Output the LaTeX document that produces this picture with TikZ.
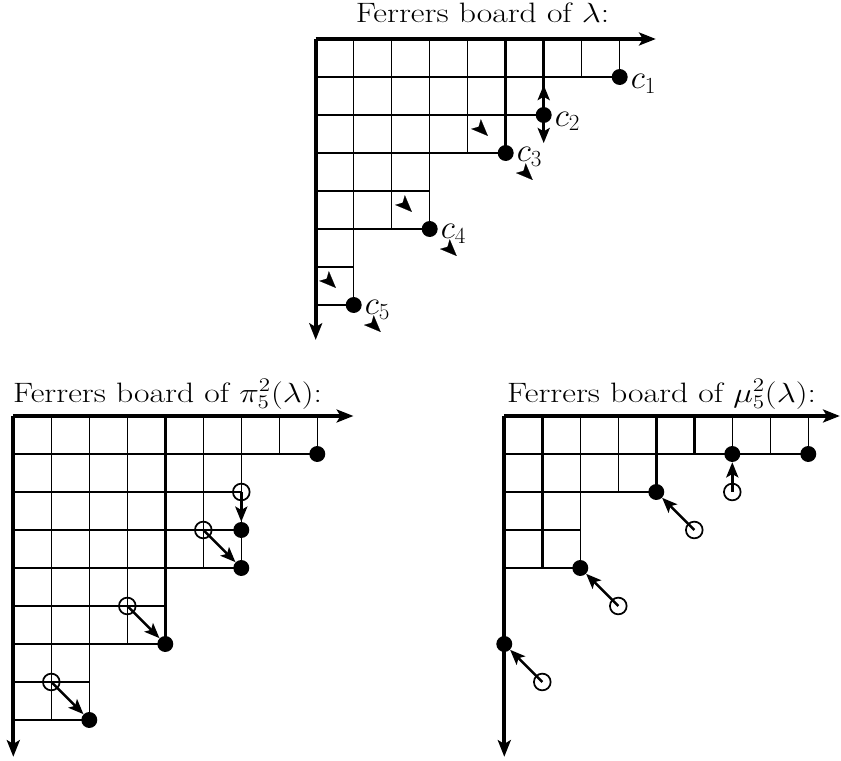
\documentclass[tikz,border=0pt]{standalone}
\usepackage{graphicx}
\usetikzlibrary{arrows.meta}
\begin{document}
\begin{tikzpicture}[
  thinl/.style={line width=0.95pt},
  thickl/.style={line width=2.2pt},
  axis/.style={line width=2.9pt, -{Stealth[length=0.44cm,width=0.34cm,inset=0.1cm]}},
  mv/.style={line width=1.9pt, -{Stealth[length=0.4cm,width=0.32cm,inset=0.09cm]}},
  tipo/.style={line width=0.1pt, -{Stealth[length=0.44cm,width=0.36cm,inset=0.1cm]}},
  dot/.style={circle, fill=black, inner sep=0pt, minimum size=0.42cm},
  hole/.style={circle, draw=black, line width=1.3pt, inner sep=0pt, minimum size=0.44cm},
  lab/.style={anchor=base west, inner sep=0pt, font=\fontsize{23}{28}\selectfont},
  ttl/.style={anchor=base, inner sep=0pt, font=\fontsize{21}{26}\selectfont}
]
\useasboundingbox (0,0) rectangle (22.132,-20.026);

% titles
\node[ttl] (t1) at (12.70,-0.60) {\scalebox{1.2}[1]{Ferrers board of $\lambda$:}};
\node[ttl] (t2) at (4.41,-10.58) {\scalebox{1.2}[1]{Ferrers board of $\pi_5^2(\lambda)$:}};
\node[ttl] (t3) at (17.41,-10.58) {\scalebox{1.2}[1]{Ferrers board of $\mu_5^2(\lambda)$:}};

% ---------- top board: lambda ----------
\begin{scope}[shift={(8.308,-1.026)}, yscale=-1]
  \foreach \j/\l in {1/7,2/5,3/5,4/3,5/3,6/2,7/1,8/1} \draw[thinl] (\j,0) -- (\j,\l);
  \foreach \k/\l in {1/8,2/6,3/5,4/3,5/3,6/1,7/1} \draw[thinl] (0,\k) -- (\l,\k);
  \draw[thickl] (5,0) -- (5,3);
  \draw[thickl] (6,0) -- (6,2);
  \draw[thickl] (0,3) -- (5,3);
  \coordinate (aO) at (0,0);
  \coordinate (aX) at (8.95,0);
  \coordinate (aY) at (0,7.92);
  \draw[axis] (aO) -- (aX);
  \draw[axis] (aO) -- (aY);
  \node[dot] (c1) at (8,1) {};
  \node[dot] (c2) at (6,2) {};
  \node[dot] (c3) at (5,3) {};
  \node[dot] (c4) at (3,5) {};
  \node[dot] (c5) at (1,7) {};
  \node[lab] (l1) at (8.29,1.30) {$c_1$};
  \node[lab] (l2) at (6.29,2.29) {$c_2$};
  \node[lab] (l3) at (5.29,3.22) {$c_3$};
  \node[lab] (l4) at (3.29,5.26) {$c_4$};
  \node[lab] (l5) at (1.29,7.25) {$c_5$};
  \coordinate (c2u) at (6,1.21);
  \coordinate (c2d) at (6,2.74);
  \draw[mv] (c2.center) -- (c2u);
  \draw[mv] (c2.center) -- (c2d);
  % isolated arrow tips
  \foreach \c/\r in {5/3,3/5,1/7} {
    \draw[tipo] (\c-0.53,\r-0.51) -- (\c-0.47,\r-0.45);
    \draw[tipo] (\c+0.65,\r+0.65) -- (\c+0.71,\r+0.71);
  }
\end{scope}

% ---------- bottom left: pi ----------
\begin{scope}[shift={(0.35,-10.947)}, yscale=-1]
  \foreach \j/\l in {1/8,2/8,3/6,4/6,5/4,6/4,7/1,8/1} \draw[thinl] (\j,0) -- (\j,\l);
  \foreach \k/\l in {1/8,2/6,3/6,4/6,5/4,6/4,7/2,8/2} \draw[thinl] (0,\k) -- (\l,\k);
  \draw[thickl] (4,0) -- (4,6);
  \draw[thickl] (0,2) -- (6,2);
  \draw[thickl] (0,3) -- (6,3);
  \draw[thickl] (0,8) -- (2,8);
  \coordinate (bO) at (0,0);
  \coordinate (bX) at (8.95,0);
  \coordinate (bY) at (0,8.97);
  \draw[axis] (bO) -- (bX);
  \draw[axis] (bO) -- (bY);
  \node[dot] (p1) at (8,1) {};
  \node[dot] (p2) at (6,3) {};
  \node[dot] (p3) at (6,4) {};
  \node[dot] (p4) at (4,6) {};
  \node[dot] (p5) at (2,8) {};
  \node[hole] (q2) at (6,2) {};
  \node[hole] (q3) at (5,3) {};
  \node[hole] (q4) at (3,5) {};
  \node[hole] (q5) at (1,7) {};
  \draw[mv] (q2.center) -- (p2);
  \draw[mv] (q3.center) -- (p3);
  \draw[mv] (q4.center) -- (p4);
  \draw[mv] (q5.center) -- (p5);
\end{scope}

% ---------- bottom right: mu ----------
\begin{scope}[shift={(13.271,-10.947)}, yscale=-1]
  \foreach \j/\l in {1/4,2/4,3/2,4/2,5/1,6/1,7/1,8/1} \draw[thinl] (\j,0) -- (\j,\l);
  \foreach \k/\l in {1/8,2/4,3/2,4/2} \draw[thinl] (0,\k) -- (\l,\k);
  \draw[thickl] (1,0) -- (1,4);
  \draw[thickl] (4,0) -- (4,2);
  \draw[thickl] (5,0) -- (5,1);
  \draw[thickl] (0,2) -- (4,2);
  \draw[thickl] (0,3) -- (2,3);
  \coordinate (mO) at (0,0);
  \coordinate (mX) at (8.83,0);
  \coordinate (mY) at (0,8.97);
  \draw[axis] (mO) -- (mX);
  \draw[axis] (mO) -- (mY);
  \node[dot] (m1) at (8,1) {};
  \node[dot] (m2) at (6,1) {};
  \node[dot] (m3) at (4,2) {};
  \node[dot] (m4) at (2,4) {};
  \node[dot] (m5) at (0,6) {};
  \node[hole] (n2) at (6,2) {};
  \node[hole] (n3) at (5,3) {};
  \node[hole] (n4) at (3,5) {};
  \node[hole] (n5) at (1,7) {};
  \draw[mv] (n2.center) -- (m2);
  \draw[mv] (n3.center) -- (m3);
  \draw[mv] (n4.center) -- (m4);
  \draw[mv] (n5.center) -- (m5);
\end{scope}
\end{tikzpicture}
\end{document}
